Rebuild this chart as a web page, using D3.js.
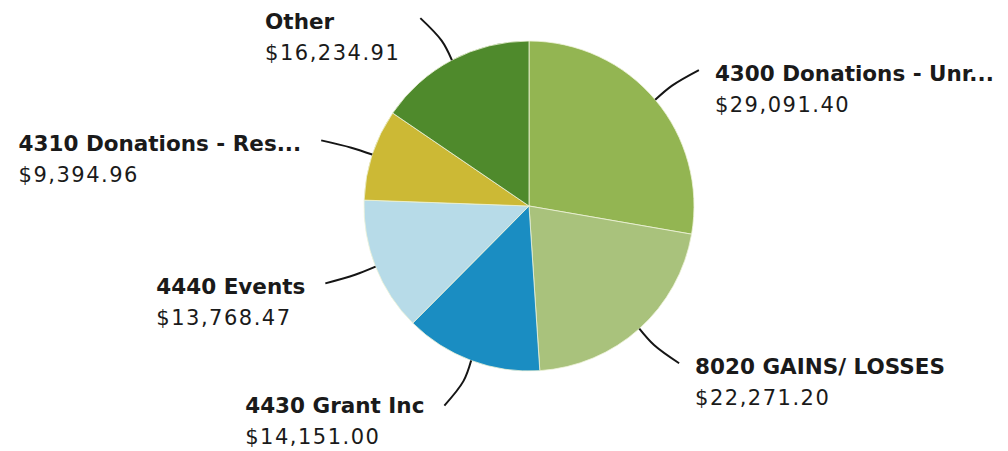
<!DOCTYPE html>
<html>
<head>
<meta charset="utf-8">
<script src="https://cdn.jsdelivr.net/npm/d3@7"></script>
<style>
  body { margin: 0; background: #fff; }
  .lbl { font-family: "DejaVu Sans", sans-serif; font-weight: bold; font-size: 21.5px; fill: #1a1a1a; }
  .val { font-family: "DejaVu Sans", sans-serif; font-size: 21px; letter-spacing: 1.5px; fill: #1a1a1a; }
</style>
</head>
<body>
<div id="chart"></div>
<script>
var categories = ["4300 Donations - Unr...", "8020 GAINS/ LOSSES", "4430 Grant Inc",
    "4440 Events", "4310 Donations - Res...", "Other"];
var amounts = [29091.40, 22271.20, 14151.00, 13768.47, 9394.96, 16234.91];
var colors = ["#93b552", "#a9c27c", "#1a8dc2", "#b7dbe8", "#ccb935", "#4f8a2c"];

function init() {
    var w = 1008, h = 451;
    var cx = 529, cy = 206, r = 165;

    var svg = d3.select("#chart")
        .append("svg")
        .attr("width", w)
        .attr("height", h);

    var data = categories.map(function (c, i) {
        return { name: c, value: amounts[i], color: colors[i] };
    });

    var pie = d3.pie()
        .sort(null)
        .value(function (d) { return d.value; });

    var arc = d3.arc().innerRadius(0).outerRadius(r);

    var g = svg.append("g").attr("transform", "translate(" + cx + "," + cy + ")");
    var arcs = pie(data);

    g.selectAll("path.slice")
        .data(arcs)
        .enter()
        .append("path")
        .attr("class", "slice")
        .attr("d", arc)
        .style("fill", function (d) { return d.data.color; })
        .style("stroke", "#eef3d8")
        .style("stroke-width", 0.8);

    // point on a circle of radius rad at angle a (0 = 12 o'clock, clockwise)
    function pt(a, rad) {
        return [Math.sin(a) * rad, -Math.cos(a) * rad];
    }

    var fmt = d3.format(",.2f");
    var leader = d3.line().curve(d3.curveCatmullRom.alpha(0.5));

    arcs.forEach(function (d) {
        var mid = (d.startAngle + d.endAngle) / 2;
        var sx = Math.sin(mid), sy = -Math.cos(mid);
        var right = sx > 0;
        var p0 = pt(mid, r);
        var p1 = pt(mid, r + 22);
        // second leg leans toward horizontal
        var phi = Math.atan2(sy, Math.abs(sx)) * 0.75;
        var p2 = [p1[0] + (right ? 1 : -1) * 31 * Math.cos(phi), p1[1] + 31 * Math.sin(phi)];

        g.append("path")
            .attr("d", leader([p0, p1, p2]))
            .style("fill", "none")
            .style("stroke", "#151515")
            .style("stroke-width", 2);

        var t = g.append("g");
        var l1 = t.append("text").attr("class", "lbl").attr("y", 0).text(d.data.name);
        var l2 = t.append("text").attr("class", "val").attr("y", 31).text("$" + fmt(d.data.value));
        var bw = Math.max(l1.node().getComputedTextLength(), l2.node().getComputedTextLength());
        var x = right ? p2[0] + 16 : p2[0] - 20 - bw;
        // keep the value line inside the bottom edge
        var y = Math.min(p2[1] + 11, h - cy - 31 - 7);
        t.attr("transform", "translate(" + x + "," + y + ")");
    });
}

window.onload = init;
</script>
</body>
</html>
